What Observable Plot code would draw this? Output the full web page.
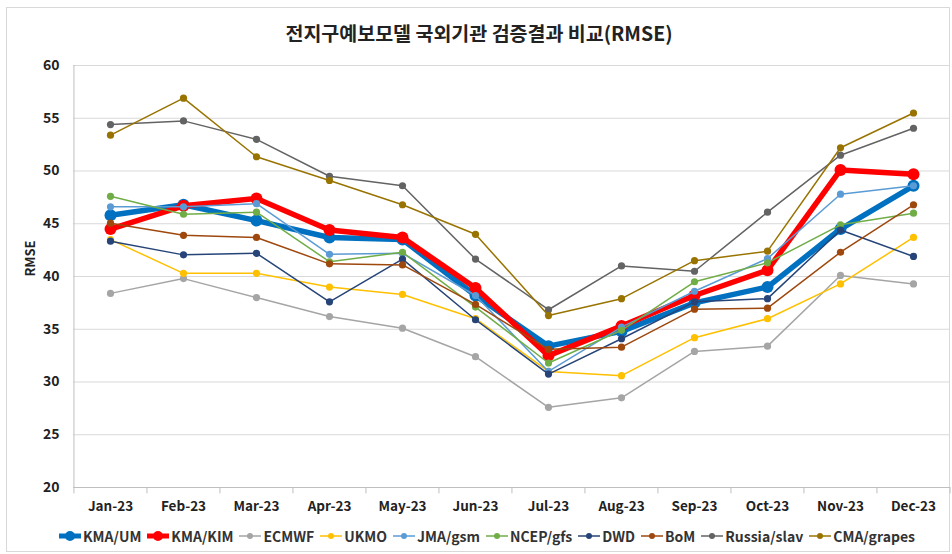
<!DOCTYPE html>
<html><head><meta charset="utf-8">
<script src="https://cdn.jsdelivr.net/npm/d3@7"></script>
<script src="https://cdn.jsdelivr.net/npm/@observablehq/plot@0.6"></script>
<style>
html,body{margin:0;padding:0;background:#fff;}
#wrap{position:relative;width:952px;height:554px;overflow:hidden;font-family:"Noto Sans CJK KR","Noto Sans",sans-serif;}
#border{position:absolute;left:6px;top:7px;width:944px;height:545px;border:1px solid #d9d9d9;box-sizing:border-box;}
#title{position:absolute;left:0;top:0;width:952px;height:50px;text-align:center;line-height:66px;font-size:19.5px;font-weight:bold;color:#222;padding-left:6px;box-sizing:border-box;}
#chart{position:absolute;left:0;top:50px;}
#legend{position:absolute;left:0;top:524px;width:952px;height:24px;display:flex;justify-content:center;align-items:center;font-size:14px;font-weight:bold;color:#333;padding-left:26px;box-sizing:border-box;}
.item{display:flex;align-items:center;margin-right:5px;}
.item svg{margin-right:1px;}
</style></head>
<body><div id="wrap"><div id="border"></div><div id="title">전지구예보모델 국외기관 검증결과 비교(RMSE)</div><div id="chart"></div><div id="legend"></div></div>
<script>
const months = ["Jan-23","Feb-23","Mar-23","Apr-23","May-23","Jun-23","Jul-23","Aug-23","Sep-23","Oct-23","Nov-23","Dec-23"];
const seriesNames = ["KMA/UM","KMA/KIM","ECMWF","UKMO","JMA/gsm","NCEP/gfs","DWD","BoM","Russia/slav","CMA/grapes"];
const seriesColors = ["#0070C0","#FF0000","#A5A5A5","#FFC000","#5B9BD5","#70AD47","#264478","#9E480E","#636363","#997300"];
const kmaUM   = [45.8,46.8,45.3,43.7,43.5,38.2,33.4,34.8,37.5,39.0,44.5,48.6];
const kmaKIM  = [44.5,46.7,47.4,44.4,43.7,38.9,32.5,35.3,38.2,40.6,50.1,49.7];
const ecmwf   = [38.4,39.8,38.0,36.2,35.1,32.4,27.6,28.5,32.9,33.4,40.1,39.3];
const ukmo    = [43.5,40.3,40.3,39.0,38.3,36.0,31.0,30.6,34.2,36.0,39.3,43.7];
const jmaGsm  = [46.6,46.6,46.9,42.1,42.2,38.2,31.0,35.2,38.6,41.7,47.8,48.6];
const ncepGfs = [47.6,45.9,46.1,41.4,42.3,37.1,31.8,34.9,39.5,41.3,44.9,46.0];
const dwd     = [43.35,42.05,42.2,37.6,41.65,35.9,30.75,34.1,37.6,37.9,44.4,41.9];
const bom     = [45.05,43.9,43.7,41.2,41.1,37.35,33.1,33.3,36.9,37.0,42.3,46.8];
const russia  = [54.4,54.75,53.0,49.5,48.6,41.65,36.85,41.0,40.5,46.1,51.5,54.05];
const cma     = [53.4,56.9,51.35,49.1,46.8,44.0,36.3,37.9,41.5,42.4,52.2,55.5];
const seriesValues = [kmaUM,kmaKIM,ecmwf,ukmo,jmaGsm,ncepGfs,dwd,bom,russia,cma];
const yTicks = [20,25,30,35,40,45,50,55,60];

const thick = new Set(["KMA/UM","KMA/KIM"]);
const marks = [
  Plot.gridY(yTicks, {stroke:"#d9d9d9", strokeOpacity:1, strokeWidth:1}),
  Plot.ruleY([20], {stroke:"#bfbfbf", strokeWidth:1}),
  Plot.ruleX(months, {x:d=>d, y1:20, y2:19.4, dx:-36.55, stroke:"#bfbfbf"}),
  Plot.ruleX([months[11]], {x:d=>d, y1:20, y2:19.4, dx:36.55, stroke:"#bfbfbf"}),
  Plot.ruleX([months[0]], {x:d=>d, y1:20, y2:60, dx:-36.55, stroke:"#bfbfbf"}),
  Plot.axisY(yTicks, {tickSize:0, tickPadding:14, fontSize:14, fontWeight:"bold", fill:"#222", label:null}),
  Plot.axisX({tickSize:0, tickPadding:14, fontSize:13.5, fontWeight:"bold", fill:"#222", label:null}),
  Plot.text(["RMSE"], {frameAnchor:"left", rotate:-90, dx:-43, text:d=>d, fontSize:13, fontWeight:"bold", fill:"#222"})
];
seriesNames.forEach((name,i)=>{
  const data = months.map((m,j)=>({m, v:seriesValues[i][j]}));
  const t = thick.has(name);
  marks.push(Plot.line(data, {x:"m", y:"v", stroke:seriesColors[i], strokeWidth: t?5.5:1.5, strokeLinejoin:"round"}));
  marks.push(Plot.dot(data, {x:"m", y:"v", fill:seriesColors[i], r: t?6:3.6, stroke:"none"}));
});
const chart = Plot.plot({
  width:952, height:472,
  marginLeft:73, marginRight:2, marginTop:15, marginBottom:35,
  style:{fontFamily:'"Noto Sans CJK KR","Noto Sans",sans-serif', background:"transparent"},
  x:{type:"point", domain:months, padding:0.5, axis:null},
  y:{domain:[20,60], axis:null},
  marks
});
document.getElementById("chart").appendChild(chart);

const legend = document.getElementById("legend");
seriesNames.forEach((name,i)=>{
  const t = thick.has(name);
  const item = document.createElement("div");
  item.className="item";
  item.innerHTML = `<svg width="24" height="14"><line x1="1" x2="23" y1="7" y2="7" stroke="${seriesColors[i]}" stroke-width="${t?5:1.5}"/><circle cx="12" cy="7" r="${t?5:3}" fill="${seriesColors[i]}"/></svg><span>${name}</span>`;
  legend.appendChild(item);
});
</script></body></html>
